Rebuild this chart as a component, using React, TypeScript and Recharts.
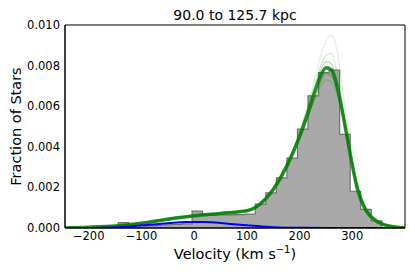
import { ComposedChart, Area, Line, XAxis, YAxis, Label, Customized } from "recharts";

// histogram of observed velocities (bin edges every ~20 km/s)
const binEdges = [
  -144, -124, -104, -84, -64, -44, -24, -4, 16, 36, 56, 76, 96, 116, 136, 156, 176, 196, 216,
  236, 256, 276, 296, 316, 336, 356,
];
const binFrac = [
  0.00027, 0.00005, 0.0001, 0.00012, 0.00015, 0.00018, 0.0002, 0.00083, 0.00064, 0.00066,
  0.00065, 0.00066, 0.00068, 0.00118, 0.00173, 0.00247, 0.00344, 0.00487, 0.00651, 0.00765,
  0.00778, 0.00461, 0.00181, 0.00092, 0.00035,
];

// model curves (posterior draws) on a common velocity grid
const velGrid = [
  -245, -200, -150, -100, -50, 0, 50, 100, 125, 150, 175, 200, 215, 230, 240, 250, 260, 270,
  280, 290, 300, 310, 325, 340, 355, 370, 385, 400,
];
const fitMedian = [
  0.00001, 0.00004, 0.0001, 0.00023, 0.00043, 0.0006, 0.00072, 0.00085, 0.00118, 0.0019,
  0.003, 0.0045, 0.0056, 0.0068, 0.0075, 0.0079, 0.0078, 0.0071, 0.0059, 0.0045, 0.0031,
  0.0019, 0.0009, 0.00045, 0.00022, 0.0001, 0.00004, 0.00001,
];
const fitDrawA = [
  0.00001, 0.00003, 0.00009, 0.00021, 0.0004, 0.00056, 0.00068, 0.00082, 0.00112, 0.0018,
  0.003, 0.0047, 0.006, 0.0075, 0.0085, 0.0092, 0.0095, 0.0089, 0.0072, 0.0052, 0.0034, 0.002,
  0.0009, 0.0004, 0.0002, 0.00008, 0.00003, 0.00001,
];
const fitDrawB = [
  0.00001, 0.00004, 0.0001, 0.00022, 0.00042, 0.00058, 0.0007, 0.00084, 0.00116, 0.0019,
  0.0031, 0.0047, 0.0059, 0.0072, 0.008, 0.0085, 0.0086, 0.0078, 0.0063, 0.0047, 0.0032,
  0.0019, 0.0009, 0.00042, 0.0002, 0.00009, 0.00003, 0.00001,
];
const fitDrawC = [
  0.00001, 0.00004, 0.0001, 0.00024, 0.00044, 0.0006, 0.00072, 0.00086, 0.0012, 0.0019,
  0.0031, 0.0046, 0.0058, 0.007, 0.0078, 0.0082, 0.0081, 0.0074, 0.0061, 0.0046, 0.0031,
  0.0019, 0.0009, 0.00045, 0.00022, 0.0001, 0.00004, 0.00001,
];
const fitDrawD = [
  0.00002, 0.00005, 0.00011, 0.00025, 0.00046, 0.00062, 0.00074, 0.00088, 0.0012, 0.0019,
  0.003, 0.0044, 0.0054, 0.0065, 0.0072, 0.0076, 0.0075, 0.0069, 0.0058, 0.0045, 0.0032,
  0.002, 0.001, 0.0005, 0.00024, 0.00011, 0.00005, 0.00002,
];
const fitDrawE = [
  0.00002, 0.00005, 0.00012, 0.00026, 0.00047, 0.00063, 0.00076, 0.0009, 0.00125, 0.002,
  0.0032, 0.0046, 0.0055, 0.0064, 0.007, 0.0073, 0.0072, 0.0067, 0.0057, 0.0045, 0.0032,
  0.0021, 0.0011, 0.00052, 0.00025, 0.00012, 0.00005, 0.00002,
];

// halo component
const haloVel = [-245, -200, -160, -130, -100, -50, -15, 20, 60, 100, 130, 160, 200, 250, 300, 400];
const haloFrac = [
  0, 0.000005, 0.00002, 0.00006, 0.00013, 0.00024, 0.0003, 0.00029, 0.00022, 0.00013, 0.00007,
  0.00003, 0.00001, 0, 0, 0,
];

const xTicks = [-200, -100, 0, 100, 200, 300];
const yTicks = [0, 0.002, 0.004, 0.006, 0.008, 0.01];

const FONT = "DejaVu Sans, sans-serif";
const X_DOMAIN: [number, number] = [-245, 400];
const Y_DOMAIN: [number, number] = [0, 0.01];

const histData = [
  { x: binEdges[0], y: 0 },
  ...binFrac.map((f, i) => ({ x: binEdges[i], y: f })),
  { x: binEdges[binEdges.length - 1], y: 0 },
];

const toSeries = (ys: number[]) => velGrid.map((v, i) => ({ x: v, y: ys[i] }));
const draws = [
  { data: toSeries(fitDrawA), opacity: 0.12 },
  { data: toSeries(fitDrawB), opacity: 0.18 },
  { data: toSeries(fitDrawC), opacity: 0.3 },
  { data: toSeries(fitDrawD), opacity: 0.3 },
  { data: toSeries(fitDrawE), opacity: 0.2 },
];
const medianData = toSeries(fitMedian);
const haloData = haloVel.map((v, i) => ({ x: v, y: haloFrac[i] }));

const fmtX = (v: number) => (v < 0 ? `\u2212${Math.abs(v)}` : `${v}`);
const fmtY = (v: number) => v.toFixed(3);

const XLabel = (props: any) => {
  const vb = props.viewBox;
  return (
    <text x={vb.x + vb.width / 2} y={vb.y + 31} textAnchor="middle" fontSize={14.5} fontFamily={FONT} fill="#000">
      Velocity (km s
      <tspan dy={-6} fontSize={10}>
        {"\u22121"}
      </tspan>
      <tspan dy={6}>)</tspan>
    </text>
  );
};

const YLabel = (props: any) => {
  const vb = props.viewBox;
  const cy = vb.y + vb.height / 2;
  return (
    <text
      x={16}
      y={cy}
      transform={`rotate(-90 16 ${cy})`}
      textAnchor="middle"
      dominantBaseline="central"
      fontSize={14.5}
      fontFamily={FONT}
      fill="#000"
    >
      Fraction of Stars
    </text>
  );
};

const Title = () => (
  <text x={235} y={20} textAnchor="middle" fontSize={14} fontFamily={FONT} fill="#000">
    90.0 to 125.7 kpc
  </text>
);

export default function App() {
  return (
    <div style={{ position: "absolute", left: 0, top: 0 }}>
      <ComposedChart width={415} height={277} margin={{ top: 25, right: 10, bottom: 0, left: 10 }}>
        <XAxis
          xAxisId="x"
          type="number"
          dataKey="x"
          domain={X_DOMAIN}
          allowDataOverflow
          ticks={xTicks}
          tickFormatter={fmtX}
          height={49}
          tickSize={0}
          tickMargin={4}
          tickLine={false}
          axisLine={{ stroke: "#000" }}
          tick={{ fontSize: 11.5, fontFamily: FONT, fill: "#000" }}
        >
          <Label content={XLabel} />
        </XAxis>
        <XAxis
          xAxisId="xb"
          type="number"
          dataKey="x"
          domain={X_DOMAIN}
          allowDataOverflow
          ticks={xTicks}
          orientation="bottom"
          mirror
          tickSize={4}
          tick={false}
          axisLine={{ stroke: "#000" }}
          tickLine={{ stroke: "#000" }}
        />
        <XAxis
          xAxisId="xt"
          type="number"
          dataKey="x"
          domain={X_DOMAIN}
          allowDataOverflow
          ticks={xTicks}
          orientation="top"
          mirror
          tickSize={4}
          tick={false}
          axisLine={{ stroke: "#000" }}
          tickLine={{ stroke: "#000" }}
        />
        <YAxis
          yAxisId="y"
          type="number"
          domain={Y_DOMAIN}
          allowDataOverflow
          ticks={yTicks}
          tickFormatter={fmtY}
          width={55}
          tickSize={0}
          tickMargin={5}
          tickLine={false}
          axisLine={{ stroke: "#000" }}
          tick={{ fontSize: 11.5, fontFamily: FONT, fill: "#000" }}
        >
          <Label content={YLabel} />
        </YAxis>
        <YAxis
          yAxisId="yl"
          type="number"
          domain={Y_DOMAIN}
          allowDataOverflow
          ticks={yTicks}
          orientation="left"
          mirror
          tickSize={4}
          tick={false}
          axisLine={{ stroke: "#000" }}
          tickLine={{ stroke: "#000" }}
        />
        <YAxis
          yAxisId="yr"
          type="number"
          domain={Y_DOMAIN}
          allowDataOverflow
          ticks={yTicks}
          orientation="right"
          mirror
          tickSize={4}
          tick={false}
          axisLine={{ stroke: "#000" }}
          tickLine={{ stroke: "#000" }}
        />
        <Area
          xAxisId="x"
          yAxisId="y"
          data={histData}
          dataKey="y"
          type="stepAfter"
          fill="#a9a9a9"
          fillOpacity={1}
          stroke="#707070"
          strokeWidth={1.2}
          isAnimationActive={false}
        />
        {draws.map((d, i) => (
          <Line
            key={i}
            xAxisId="x"
            yAxisId="y"
            data={d.data}
            dataKey="y"
            type="monotone"
            stroke="#008000"
            strokeOpacity={d.opacity}
            strokeWidth={1.2}
            dot={false}
            isAnimationActive={false}
          />
        ))}
        <Line
          xAxisId="x"
          yAxisId="y"
          data={medianData}
          dataKey="y"
          type="monotone"
          stroke="#008000"
          strokeOpacity={0.85}
          strokeWidth={3.5}
          dot={false}
          isAnimationActive={false}
        />
        <Line
          xAxisId="x"
          yAxisId="y"
          data={haloData}
          dataKey="y"
          type="monotone"
          stroke="#0000ff"
          strokeWidth={2}
          dot={false}
          isAnimationActive={false}
        />
        <Customized component={Title} />
      </ComposedChart>
    </div>
  );
}
